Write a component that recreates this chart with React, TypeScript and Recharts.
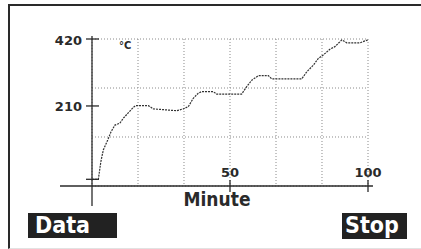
import { CartesianGrid, Line, LineChart, ReferenceLine, XAxis, YAxis } from "recharts";

// temperature trace
const minutes = [0, 2.3, 3.2, 4.1, 5.7, 6.9, 8.3, 10.1, 11.3, 13.2, 15.0, 15.8, 20.4, 22.2, 30.7, 33.1, 34.9, 36.7, 38.5, 39.7, 43.9, 45.2, 54.2, 56.0, 57.9, 60.3, 63.9, 65.1, 76.0, 77.8, 80.2, 82.0, 83.8, 86.2, 88.0, 90.5, 92.3, 97.1, 98.9, 100];
const temps = [-20, -20, 35, 72, 103, 129, 150, 156, 171, 189, 206, 211, 211, 201, 195, 201, 208, 234, 250, 255, 255, 247, 247, 270, 291, 305, 305, 295, 295, 317, 338, 359, 370, 388, 396, 417, 408, 408, 414, 417];

const xTicks = [50, 100];
const yTicks = [-20, 210, 420];
const gridMinutes = [0, 16.67, 33.33, 50, 66.67, 83.33, 100];
const gridTemps = [-41, 112.7, 266.3, 420];

const data = minutes.map((minute, i) => ({ minute, temp: temps[i] }));

const ink = "#2a2a2a";
const font = "DejaVu Sans";

function YTick({ x, y, payload }: any) {
  return (
    <g>
      <line x1={x - 6} x2={x + 7} y1={y} y2={y} stroke={ink} strokeWidth={1.3} />
      {payload.value >= 0 && (
        <text x={x - 10} y={y + 5.5} textAnchor="end" fontFamily={font} fontWeight="bold" fontSize={13} fill={ink}>
          {payload.value}
        </text>
      )}
    </g>
  );
}

function XTick({ x, y, payload }: any) {
  return (
    <g>
      <line x1={x} x2={x} y1={y - 6} y2={y + 6} stroke={ink} strokeWidth={1.3} />
      <text x={x} y={y - 9} textAnchor="middle" fontFamily={font} fontWeight="bold" fontSize={13} fill={ink}>
        {payload.value}
      </text>
    </g>
  );
}

function MinuteLabel({ viewBox }: any) {
  return (
    <text x={viewBox.x + viewBox.width / 2 - 13} y={viewBox.y + 20} textAnchor="middle" fontFamily="DejaVu Sans Condensed" fontWeight="bold" fontSize={19} fill={ink}>
      Minute
    </text>
  );
}

function UnitLabel({ viewBox }: any) {
  return (
    <text x={viewBox.x + viewBox.width + 27} y={viewBox.y + 10} fontFamily={font} fontWeight="bold" fontSize={10} fill={ink}>
      °C
    </text>
  );
}

const button = {
  position: "absolute" as const,
  top: 213,
  height: 25,
  background: "#222",
  color: "#fff",
  fontFamily: "DejaVu Sans Condensed",
  fontWeight: "bold" as const,
  fontSize: 23,
  lineHeight: "25px",
  boxSizing: "border-box" as const,
};

export default function App() {
  return (
    <div style={{ position: "absolute", left: 0, top: 0, width: 421, height: 249, background: "#fff", overflow: "hidden" }}>
      <div style={{ position: "absolute", left: 8, top: 4, width: 420, height: 242, borderTop: `2px solid ${ink}`, borderLeft: `2px solid ${ink}`, borderBottom: "1px solid #e2e2e2" }} />
      <div style={{ position: "absolute", left: 0, top: 0 }}>
        <LineChart width={421} height={249} data={data} margin={{ top: 39, right: 53, bottom: 43, left: 52 }}>
          <CartesianGrid stroke="#8a8a8a" strokeDasharray="1 2" verticalValues={gridMinutes} horizontalValues={gridTemps} />
          <XAxis
            dataKey="minute"
            type="number"
            domain={[0, 100]}
            ticks={xTicks}
            axisLine={false}
            tickLine={false}
            tickSize={0}
            tickMargin={0}
            height={20}
            tick={XTick}
            label={MinuteLabel}
          />
          <YAxis
            type="number"
            domain={[-41, 420]}
            ticks={yTicks}
            axisLine={false}
            tickLine={false}
            tickSize={0}
            tickMargin={0}
            width={40}
            tick={YTick}
            label={UnitLabel}
          />
          <ReferenceLine segment={[{ x: -11.6, y: -41 }, { x: 101.8, y: -41 }]} stroke={ink} strokeWidth={1.3} ifOverflow="visible" />
          <ReferenceLine segment={[{ x: 0, y: -104 }, { x: 0, y: 429.4 }]} stroke={ink} strokeWidth={1.3} ifOverflow="visible" />
          <Line type="linear" dataKey="temp" stroke="#333" strokeWidth={1.2} strokeDasharray="2 1" dot={false} isAnimationActive={false} />
        </LineChart>
      </div>
      <div style={{ ...button, left: 28, width: 89, paddingLeft: 7 }}>Data</div>
      <div style={{ ...button, left: 342, width: 65, height: 26, paddingLeft: 3 }}>Stop</div>
    </div>
  );
}
